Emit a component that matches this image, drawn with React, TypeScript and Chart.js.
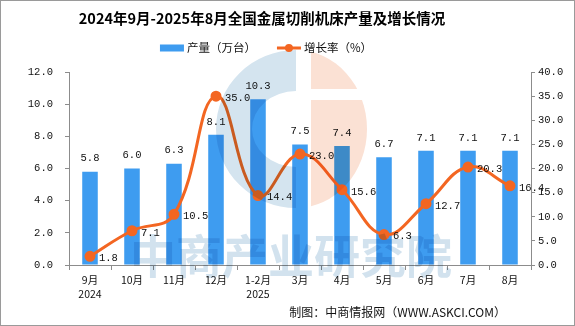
import React, { useEffect, useRef } from 'react';
import { Chart, registerables } from 'chart.js';
Chart.register(...registerables);

const titleText = '2024年9月-2025年8月全国金属切削机床产量及增长情况';
const footerText = '制图：中商情报网（WWW.ASKCI.COM）';
const watermarkText = '中商产业研究院';
const categories: (string | string[])[] = [['9月', '2024'], '10月', '11月', '12月', ['1-2月', '2025'], '3月', '4月', '5月', '6月', '7月', '8月'];
const outputLabel = '产量（万台）';
const growthLabel = '增长率（%）';
const output = [5.8, 6.0, 6.3, 8.1, 10.3, 7.5, 7.4, 6.7, 7.1, 7.1, 7.1];
const growth = [1.8, 7.1, 10.5, 35.0, 14.4, 23.0, 15.6, 6.3, 12.7, 20.3, 16.4];
const leftMin = 0, leftMax = 12, leftStep = 2;
const rightMin = 0, rightMax = 40, rightStep = 5;

const BLUE = 'rgb(62,156,240)';
const ORANGE = 'rgb(243,102,34)';
const AXIS = '#8c8c8c';
const MONO = "'Liberation Mono', 'DejaVu Sans Mono', monospace";
const CJK = "'Noto Sans CJK SC', 'Noto Sans', sans-serif";

const decor = {
  id: 'decor',
  afterDatasetsDraw(chart: any) {
    const ctx = chart.ctx;
    ctx.save();
    ctx.fillStyle = '#111';
    ctx.font = `10.5px ${MONO}`;
    const bars = chart.getDatasetMeta(0).data;
    ctx.textAlign = 'center';
    ctx.textBaseline = 'middle';
    bars.forEach((b: any, i: number) => {
      ctx.fillText(output[i].toFixed(1), b.x, b.y - 13);
    });
    const pts = chart.getDatasetMeta(1).data;
    ctx.textAlign = 'left';
    pts.forEach((p: any, i: number) => {
      ctx.fillText(growth[i].toFixed(1), p.x + 9, p.y + 2);
    });
    ctx.restore();
  },
  afterDraw(chart: any) {
    const ctx = chart.ctx;
    const W = chart.width, H = chart.height;
    // watermark logo (multiplied over the chart)
    ctx.save();
    ctx.globalCompositeOperation = 'multiply';
    const cx = 296, cy = 129;
    // blue left half-annulus
    ctx.fillStyle = 'rgb(212,228,239)';
    ctx.beginPath();
    ctx.moveTo(cx, cy - 79);
    ctx.ellipse(cx, cy, 80, 79, 0, -Math.PI / 2, Math.PI / 2, true);
    ctx.lineTo(cx, cy + 38);
    ctx.ellipse(cx, cy, 44, 38, 0, Math.PI / 2, -Math.PI / 2, false);
    ctx.closePath();
    ctx.fill();
    // peach right half-disc with a horizontal gap
    ctx.save();
    ctx.beginPath();
    ctx.rect(311, 0, 200, 89);
    ctx.rect(311, 100, 200, 200);
    ctx.clip();
    ctx.fillStyle = 'rgb(251,225,212)';
    ctx.beginPath();
    ctx.moveTo(cx, cy - 79);
    ctx.ellipse(cx, cy, 71, 79, 0, -Math.PI / 2, Math.PI / 2, false);
    ctx.closePath();
    ctx.fill();
    ctx.restore();
    ctx.fillStyle = 'rgb(210,226,238)';
    ctx.font = `bold 46px ${CJK}`;
    ctx.textAlign = 'center';
    ctx.textBaseline = 'middle';
    ctx.fillText(watermarkText, 291, 256);
    ctx.restore();

    ctx.save();
    // border
    ctx.strokeStyle = '#9a9a9a';
    ctx.lineWidth = 1;
    ctx.strokeRect(0.5, 0.5, W - 1, H - 1);
    // title
    ctx.fillStyle = '#000';
    ctx.font = `bold 14.5px ${CJK}`;
    ctx.textAlign = 'center';
    ctx.textBaseline = 'middle';
    ctx.fillText(titleText, 262, 18);
    // legend
    ctx.font = `11.5px ${CJK}`;
    ctx.textAlign = 'left';
    const w1 = ctx.measureText(outputLabel).width;
    const w2 = ctx.measureText(growthLabel).width;
    const total = 24 + 3 + w1 + 21 + 24 + 3 + w2;
    let x = 266 - total / 2;
    const ly = 48;
    ctx.fillStyle = BLUE;
    ctx.fillRect(x, ly - 3.5, 24, 7);
    ctx.fillStyle = '#111';
    ctx.fillText(outputLabel, x + 27, ly);
    x += 27 + w1 + 21;
    ctx.strokeStyle = ORANGE;
    ctx.lineWidth = 3;
    ctx.beginPath();
    ctx.moveTo(x, ly);
    ctx.lineTo(x + 24, ly);
    ctx.stroke();
    ctx.fillStyle = ORANGE;
    ctx.beginPath();
    ctx.arc(x + 12, ly, 4, 0, Math.PI * 2);
    ctx.fill();
    ctx.fillStyle = '#111';
    ctx.fillText(growthLabel, x + 27, ly);
    // footer
    ctx.font = `12px ${CJK}`;
    ctx.textAlign = 'right';
    ctx.fillText(footerText, 506, 312);
    ctx.restore();
  },
};

export default function App() {
  const ref = useRef<HTMLCanvasElement>(null);
  useEffect(() => {
    const canvas = ref.current!;
    const chart = new Chart(canvas, {
      type: 'bar',
      data: {
        labels: categories as any,
        datasets: [
          {
            type: 'bar',
            label: outputLabel,
            data: output,
            backgroundColor: BLUE,
            yAxisID: 'y',
            barPercentage: 0.37,
            categoryPercentage: 1,
            order: 2,
          },
          {
            type: 'line',
            label: growthLabel,
            data: growth,
            borderColor: ORANGE,
            backgroundColor: ORANGE,
            borderWidth: 3,
            pointRadius: 4,
            pointBackgroundColor: ORANGE,
            pointBorderColor: ORANGE,
            tension: 0.42,
            yAxisID: 'y1',
            order: 1,
          } as any,
        ],
      },
      options: {
        responsive: false,
        animation: false,
        layout: { padding: { top: 72, left: 0, right: 0, bottom: 0 } },
        plugins: {
          legend: { display: false },
          title: { display: false },
          tooltip: { enabled: false },
        },
        scales: {
          x: {
            offset: true,
            grid: { display: true, drawOnChartArea: false, drawTicks: true, tickLength: 5, color: AXIS, offset: true },
            border: { display: true, color: AXIS },
            ticks: { color: '#111', font: { family: CJK, size: 10.5, lineHeight: 1.33 }, padding: 3, maxRotation: 0, autoSkip: false },
            afterFit: (s: any) => { s.height = 61; },
          },
          y: {
            position: 'left',
            min: leftMin,
            max: leftMax,
            grid: { display: true, drawOnChartArea: false, tickLength: 4, color: AXIS },
            border: { display: true, color: AXIS },
            ticks: { stepSize: leftStep, color: '#111', font: { family: MONO, size: 10.5 }, padding: 12, callback: (v: any) => Number(v).toFixed(1) },
            afterFit: (s: any) => { s.width = 69; },
          },
          y1: {
            position: 'right',
            min: rightMin,
            max: rightMax,
            grid: { display: true, drawOnChartArea: false, tickLength: 4, color: AXIS },
            border: { display: true, color: AXIS },
            ticks: { stepSize: rightStep, color: '#111', font: { family: MONO, size: 10.5 }, padding: 3, callback: (v: any) => Number(v).toFixed(1) },
            afterFit: (s: any) => { s.width = 44; },
          },
        },
      },
      plugins: [decor],
    });
    return () => chart.destroy();
  }, []);
  return (
    <div style={{ position: 'absolute', left: 0, top: 0, width: 575, height: 326, background: '#fff' }}>
      <canvas ref={ref} width={575} height={326} style={{ width: 575, height: 326, display: 'block' }} />
    </div>
  );
}
